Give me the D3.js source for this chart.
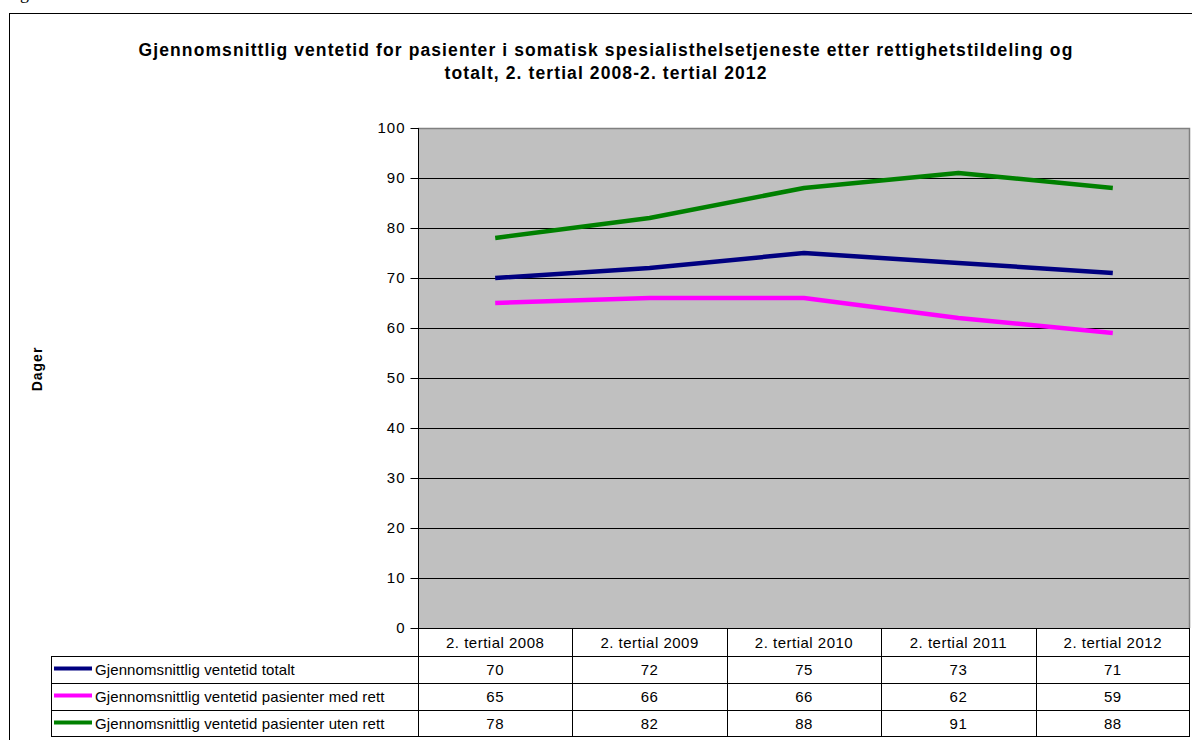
<!DOCTYPE html>
<html><head><meta charset="utf-8">
<script src="https://cdn.jsdelivr.net/npm/d3@7"></script>
<style>body{margin:0;background:#fff}svg{display:block}</style>
</head><body>
<script>
const categories = ["2. tertial 2008","2. tertial 2009","2. tertial 2010","2. tertial 2011","2. tertial 2012"];
const seriesNames = ["Gjennomsnittlig ventetid totalt","Gjennomsnittlig ventetid pasienter med rett","Gjennomsnittlig ventetid pasienter uten rett"];
const totalt = [70,72,75,73,71];
const medRett = [65,66,66,62,59];
const utenRett = [78,82,88,91,88];
const yTicks = [0,10,20,30,40,50,60,70,80,90,100];
const colors = ["#000080","#FF00FF","#008000"];
const titleLines = ["Gjennomsnittlig ventetid for pasienter i somatisk spesialisthelsetjeneste etter rettighetstildeling og","totalt, 2. tertial 2008-2. tertial 2012"];
const series = [totalt, medRett, utenRett];

const W=1192,H=740;
const font="Arial, 'Liberation Sans', sans-serif";
const svg=d3.select("body").append("svg").attr("width",W).attr("height",H);

// cut-off text at top-left
svg.append("text").attr("x",20).attr("y",-1).attr("font-family","'Liberation Serif', 'Times New Roman', serif")
  .attr("font-size",18).text("g");

// outer border
svg.append("rect").attr("x",9.5).attr("y",13.5).attr("width",1200).attr("height",800)
  .attr("fill","none").attr("stroke","#000").attr("stroke-width",1);

const L=418,R=1190,T=128,B=628;
const x=d3.scaleBand().domain(categories).range([L,R]).padding(0);
const y=d3.scaleLinear().domain([0,100]).range([B,T]);

svg.append("rect").attr("x",L).attr("y",T).attr("width",R-L).attr("height",B-T).attr("fill","#C0C0C0");
// gridlines
svg.append("g").selectAll("line").data(yTicks.filter(d=>d>0&&d<100)).join("line")
  .attr("x1",L).attr("x2",R).attr("y1",d=>Math.round(y(d))+0.5).attr("y2",d=>Math.round(y(d))+0.5)
  .attr("stroke","#000").attr("stroke-width",1);
// plot border top/right gray
svg.append("path").attr("d",`M${L},${T+0.5}H${R-0.5}V${B}`).attr("fill","none").attr("stroke","#808080").attr("stroke-width",1.5);

// y axis
const yAxis=d3.axisLeft(y).tickValues(yTicks).tickSize(8).tickPadding(5);
const ga=svg.append("g").attr("transform",`translate(${L+0.5},0)`).call(yAxis);
ga.select(".domain").attr("stroke","#000").attr("d",`M0,${T}V${B}`);
ga.selectAll(".tick line").attr("stroke","#000");
ga.selectAll(".tick text").attr("font-family",font).attr("font-size",15).attr("letter-spacing",1).attr("fill","#000");
// x axis line
svg.append("line").attr("x1",L).attr("x2",R).attr("y1",B+0.5).attr("y2",B+0.5).attr("stroke","#000");

// lines
const line=d3.line().x((d,i)=>x(categories[i])+x.bandwidth()/2).y(d=>y(d));
series.forEach((s,i)=>{
  svg.append("path").datum(s).attr("d",line).attr("fill","none").attr("stroke",colors[i])
    .attr("stroke-width",4.5).attr("stroke-linejoin","round");
});

// title
svg.append("g").selectAll("text").data(titleLines).join("text")
  .attr("x",606).attr("y",(d,i)=>56+i*23).attr("text-anchor","middle")
  .attr("font-family",font).attr("font-weight","bold").attr("font-size",17.5).attr("letter-spacing",1.1).text(d=>d);

// y label
svg.append("text").attr("transform","translate(42,369) rotate(-90)").attr("text-anchor","middle")
  .attr("font-family",font).attr("font-weight","bold").attr("font-size",14).attr("letter-spacing",1).text("Dager");

// data table
const rowTops=[628,656,683,710,737];
const tL=51;
const tg=svg.append("g");
// header labels
tg.selectAll("text.h").data(categories).join("text").attr("class","h")
  .attr("x",d=>x(d)+x.bandwidth()/2).attr("y",648).attr("text-anchor","middle")
  .attr("font-family",font).attr("font-size",15).attr("letter-spacing",0.5).text(d=>d);
// horizontal lines
[656,683,710,736].forEach(yy=>{
  tg.append("line").attr("x1",tL).attr("x2",R).attr("y1",yy+0.5).attr("y2",yy+0.5).attr("stroke","#000");
});
// vertical lines
const colBounds=[...categories.map(c=>x(c)),R];
colBounds.forEach((xx,i)=>{
  const px=Math.round(xx)+0.5-(i===colBounds.length-1?1:0);
  tg.append("line").attr("x1",px).attr("x2",px).attr("y1",B).attr("y2",737).attr("stroke","#000");
});
tg.append("line").attr("x1",tL+0.5).attr("x2",tL+0.5).attr("y1",656).attr("y2",737).attr("stroke","#000");
// rows
series.forEach((s,i)=>{
  const cy=(rowTops[i+1]+rowTops[i+2])/2;
  tg.append("line").attr("x1",tL+3).attr("x2",tL+41).attr("y1",cy-1).attr("y2",cy-1)
    .attr("stroke",colors[i]).attr("stroke-width",4);
  tg.append("text").attr("x",tL+44).attr("y",cy+5).attr("font-family",font).attr("font-size",15).attr("letter-spacing",0.1).text(seriesNames[i]);
  tg.selectAll(null).data(s).join("text").attr("x",(d,j)=>x(categories[j])+x.bandwidth()/2).attr("y",cy+5)
    .attr("text-anchor","middle").attr("font-family",font).attr("font-size",15).attr("letter-spacing",0.5).text(d=>d);
});
</script>
</body></html>
